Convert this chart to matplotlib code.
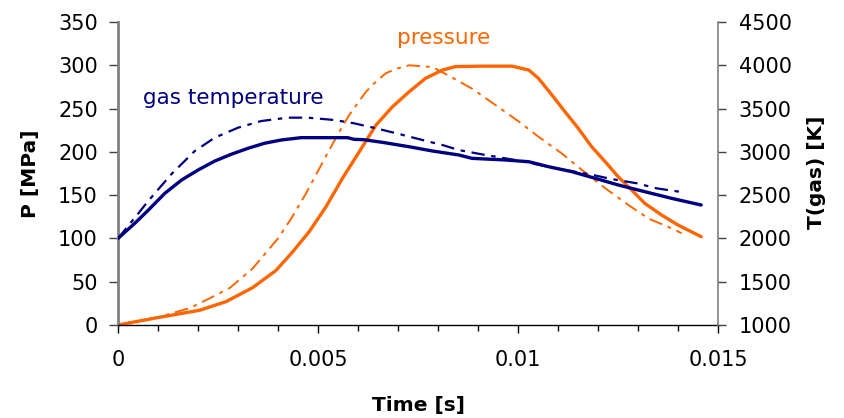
import matplotlib.pyplot as plt
from matplotlib.ticker import MultipleLocator

# Gas temperature, solid line [K]
t_temp = [0, 0.00042, 0.00076, 0.00117, 0.00159, 0.002, 0.00242, 0.00283, 0.00325,
          0.00366, 0.00408, 0.00458, 0.00574, 0.0059, 0.00615, 0.00661, 0.00728, 0.00786,
          0.00852, 0.00885, 0.00969, 0.01027, 0.01076, 0.01135, 0.01193, 0.01251, 0.01317,
          0.01384, 0.01458]
temp = [2000, 2175, 2328, 2521, 2675, 2790, 2894, 2972, 3041,
        3099, 3137, 3164, 3164, 3145, 3140, 3110, 3059, 3010,
        2964, 2925, 2906, 2886, 2829, 2771, 2694, 2617, 2540,
        2463, 2386]

# Gas temperature, dashed line [K]
t_temp2 = [0, 0.00051, 0.00071, 0.00092, 0.00134, 0.00192, 0.00242, 0.003, 0.00358,
           0.00424, 0.00474, 0.00541, 0.0059, 0.00645, 0.00703, 0.00761, 0.00811, 0.00852,
           0.0091, 0.0100, 0.0110, 0.0118, 0.01234, 0.01297, 0.01346, 0.0141]
temp2 = [2000, 2290, 2406, 2521, 2745, 3010, 3164, 3279, 3356,
         3395, 3395, 3368, 3330, 3272, 3206, 3137, 3079, 3021,
         2971, 2900, 2805, 2740, 2686, 2637, 2579, 2535]

# Pressure, solid line [MPa]
t_p = [0, 0.00105, 0.00204, 0.0027, 0.00336, 0.00395, 0.00437, 0.00478, 0.0052,
       0.00561, 0.00603, 0.00645, 0.00686, 0.00728, 0.00769, 0.00811, 0.00844, 0.0091,
       0.00985, 0.01027, 0.01051, 0.01085, 0.01118, 0.01151, 0.01184, 0.01218, 0.01251,
       0.01284, 0.01317, 0.01359, 0.014, 0.01458]
p = [0, 9, 17, 27, 43, 63, 84.7, 107.8, 136.6,
     169.4, 200, 231, 252, 269.5, 285, 294.5, 298.5, 299,
     299, 294.5, 285, 265.6, 246, 227, 206, 188.6, 171,
     156, 140.5, 127, 115.5, 102]

# Pressure, dashed line [MPa]
t_p2 = [0, 0.001, 0.0018, 0.0023, 0.0028, 0.00336, 0.004, 0.00433, 0.0047,
        0.00499, 0.00528, 0.00553, 0.00578, 0.0062, 0.0064, 0.00669, 0.00694, 0.00728,
        0.00786, 0.00831, 0.00885, 0.00944, 0.01002, 0.01051, 0.0111, 0.0116, 0.01218,
        0.01276, 0.01326, 0.01384, 0.01409]
p2 = [0, 9, 19.6, 31, 43, 65, 100, 123, 152,
      177, 202, 223, 242.5, 269.5, 279, 290.7, 295.7, 300,
      298, 287, 273, 254, 235, 217.5, 198, 179, 158,
      138.6, 123, 111.7, 106]

x_ticks = [0, 0.005, 0.01, 0.015]
x_ticklabels = ['0', '0.005', '0.01', '0.015']

navy = '#000080'
orange = '#FF6600'

fig = plt.figure(figsize=(8.44, 4.18), dpi=100)
ax = fig.add_axes([118 / 844, 1 - 325 / 418, 600 / 844, 303 / 418])
ax2 = ax.twinx()

ax.plot(t_p, p, color=orange, lw=2.4, solid_capstyle='round', solid_joinstyle='round')
ax.plot(t_p2, p2, color=orange, lw=1.4, linestyle=(0, (7, 3, 2, 3)))
ax2.plot(t_temp, temp, color=navy, lw=2.4, solid_capstyle='round', solid_joinstyle='round')
ax2.plot(t_temp2, temp2, color=navy, lw=1.6, linestyle=(0, (6, 3, 2, 3)))

ax.set_xlim(0, 0.015)
ax.set_ylim(0, 350)
ax2.set_ylim(1000, 4500)

ax.set_xticks(x_ticks)
ax.set_xticklabels(x_ticklabels)
ax.xaxis.set_minor_locator(MultipleLocator(0.001))
ax.yaxis.set_major_locator(MultipleLocator(50))
ax2.yaxis.set_major_locator(MultipleLocator(500))

for a in (ax, ax2):
    a.spines['top'].set_visible(False)
ax.spines['right'].set_visible(False)
ax.spines['left'].set_color('#808080')
ax.spines['left'].set_linewidth(2)
ax.spines['bottom'].set_color('black')
ax.spines['bottom'].set_linewidth(1)
ax2.spines['left'].set_visible(False)
ax2.spines['bottom'].set_visible(False)
ax2.spines['right'].set_color('#808080')
ax2.spines['right'].set_linewidth(1.2)

ax.tick_params(axis='x', which='major', length=6, width=1, pad=12, labelsize=15)
ax.tick_params(axis='x', which='minor', length=4, width=1)
ax.tick_params(axis='y', length=6.5, width=1, color='#404040', pad=8, labelsize=15)
ax2.tick_params(axis='y', length=6, width=1, color='#404040', pad=9, labelsize=15)

fig.text(31 / 844, 1 - 174 / 418, 'P [MPa]', rotation=90, ha='center', va='center',
         fontsize=14.5, fontweight='bold')
fig.text(816 / 844, 1 - 172 / 418, 'T(gas) [K]', rotation=90, ha='center', va='center',
         fontsize=14.5, fontweight='bold')
fig.text(419 / 844, 1 - 405 / 418, 'Time [s]', ha='center', va='center',
         fontsize=14.5, fontweight='bold')

fig.text(233 / 844, 1 - 98 / 418, 'gas temperature', color=navy, ha='center', va='center',
         fontsize=15.5)
fig.text(444 / 844, 1 - 38 / 418, 'pressure', color=orange, ha='center', va='center',
         fontsize=15.5)

fig.savefig('out.png', dpi=100)
